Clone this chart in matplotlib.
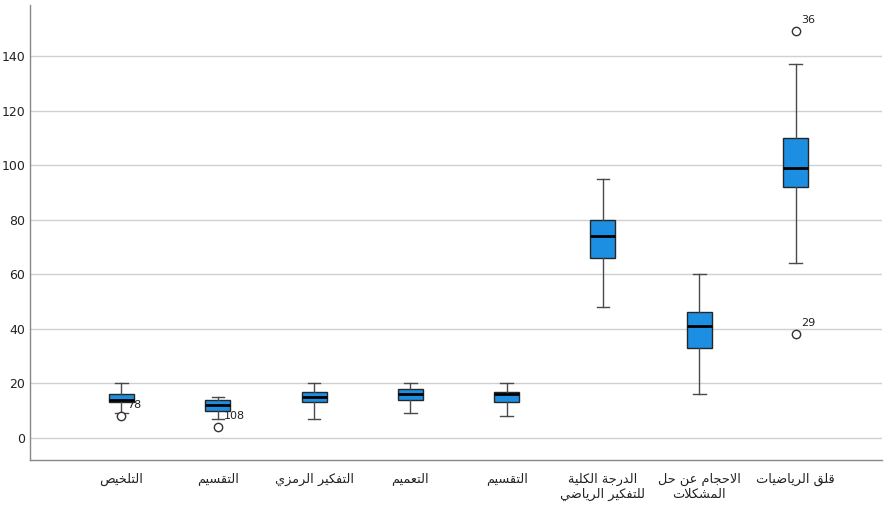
import matplotlib
matplotlib.use("Agg")
import matplotlib.pyplot as plt

# Category labels (Arabic)
labels = ["التلخيص", "التقسيم", "التفكير الرمزي", "التعميم", "التقسيم",
          "الدرجة الكلية\nللتفكير الرياضي", "الاحجام عن حل\nالمشكلات", "قلق الرياضيات"]

# Box statistics
whislo = [9, 7, 7, 9, 8, 48, 16, 64]
q1 = [13, 10, 13, 14, 13, 66, 33, 92]
med = [14, 12, 15, 16, 16, 74, 41, 99]
q3 = [16, 14, 17, 18, 17, 80, 46, 110]
whishi = [20, 15, 20, 20, 20, 95, 60, 137]
fliers = [[8], [4], [], [], [], [], [], [149, 38]]
flier_ids = [["78"], ["108"], [], [], [], [], [], ["36", "29"]]

yticks = [0, 20, 40, 60, 80, 100, 120, 140]

# --- minimal Arabic shaping (matplotlib has no shaping / bidi) ---
forms = {
    "ء": (0xFE80, None, None, None), "آ": (0xFE81, 0xFE82, None, None),
    "أ": (0xFE83, 0xFE84, None, None), "ؤ": (0xFE85, 0xFE86, None, None),
    "إ": (0xFE87, 0xFE88, None, None), "ئ": (0xFE89, 0xFE8A, 0xFE8B, 0xFE8C),
    "ا": (0xFE8D, 0xFE8E, None, None), "ب": (0xFE8F, 0xFE90, 0xFE91, 0xFE92),
    "ة": (0xFE93, 0xFE94, None, None), "ت": (0xFE95, 0xFE96, 0xFE97, 0xFE98),
    "ث": (0xFE99, 0xFE9A, 0xFE9B, 0xFE9C), "ج": (0xFE9D, 0xFE9E, 0xFE9F, 0xFEA0),
    "ح": (0xFEA1, 0xFEA2, 0xFEA3, 0xFEA4), "خ": (0xFEA5, 0xFEA6, 0xFEA7, 0xFEA8),
    "د": (0xFEA9, 0xFEAA, None, None), "ذ": (0xFEAB, 0xFEAC, None, None),
    "ر": (0xFEAD, 0xFEAE, None, None), "ز": (0xFEAF, 0xFEB0, None, None),
    "س": (0xFEB1, 0xFEB2, 0xFEB3, 0xFEB4), "ش": (0xFEB5, 0xFEB6, 0xFEB7, 0xFEB8),
    "ص": (0xFEB9, 0xFEBA, 0xFEBB, 0xFEBC), "ض": (0xFEBD, 0xFEBE, 0xFEBF, 0xFEC0),
    "ط": (0xFEC1, 0xFEC2, 0xFEC3, 0xFEC4), "ظ": (0xFEC5, 0xFEC6, 0xFEC7, 0xFEC8),
    "ع": (0xFEC9, 0xFECA, 0xFECB, 0xFECC), "غ": (0xFECD, 0xFECE, 0xFECF, 0xFED0),
    "ف": (0xFED1, 0xFED2, 0xFED3, 0xFED4), "ق": (0xFED5, 0xFED6, 0xFED7, 0xFED8),
    "ك": (0xFED9, 0xFEDA, 0xFEDB, 0xFEDC), "ل": (0xFEDD, 0xFEDE, 0xFEDF, 0xFEE0),
    "م": (0xFEE1, 0xFEE2, 0xFEE3, 0xFEE4), "ن": (0xFEE5, 0xFEE6, 0xFEE7, 0xFEE8),
    "ه": (0xFEE9, 0xFEEA, 0xFEEB, 0xFEEC), "و": (0xFEED, 0xFEEE, None, None),
    "ى": (0xFEEF, 0xFEF0, None, None), "ي": (0xFEF1, 0xFEF2, 0xFEF3, 0xFEF4),
}
lam_alef = {"آ": (0xFEF5, 0xFEF6), "أ": (0xFEF7, 0xFEF8),
            "إ": (0xFEF9, 0xFEFA), "ا": (0xFEFB, 0xFEFC)}


def shape_line(s):
    # merge lam + alef into ligature tokens
    toks = []
    i = 0
    while i < len(s):
        if s[i] == "ل" and i + 1 < len(s) and s[i + 1] in lam_alef:
            toks.append(("LA", s[i + 1]))
            i += 2
        else:
            toks.append(("C", s[i]))
            i += 1

    def joins_next(t):  # can connect to the following letter
        if t[0] == "LA":
            return False
        f = forms.get(t[1])
        return f is not None and f[2] is not None

    def joins_prev(t):  # can connect to the previous letter
        if t[0] == "LA":
            return True
        f = forms.get(t[1])
        return f is not None and f[1] is not None

    out = []
    for k, t in enumerate(toks):
        prev_j = k > 0 and joins_next(toks[k - 1]) and joins_prev(t)
        next_j = k + 1 < len(toks) and joins_next(t) and joins_prev(toks[k + 1])
        if t[0] == "LA":
            iso, fin = lam_alef[t[1]]
            out.append(chr(fin if prev_j else iso))
            continue
        f = forms.get(t[1])
        if f is None:
            out.append(t[1])
            continue
        if prev_j and next_j:
            cp = f[3]
        elif prev_j:
            cp = f[1]
        elif next_j:
            cp = f[2]
        else:
            cp = f[0]
        out.append(chr(cp))
    return "".join(out)[::-1]


def shape(s):
    return "\n".join(shape_line(line) for line in s.split("\n"))


stats = []
for i in range(len(labels)):
    stats.append({"whislo": whislo[i], "q1": q1[i], "med": med[i], "q3": q3[i],
                  "whishi": whishi[i], "fliers": fliers[i]})

fig = plt.figure(figsize=(8.84, 5.05), dpi=100)
ax = fig.add_axes([30 / 884, 1 - 460 / 505, 1 - 30 / 884 - 0.002, (460 - 5) / 505])

positions = list(range(1, len(labels) + 1))
ax.bxp(stats, positions=positions, widths=0.26, patch_artist=True,
       boxprops=dict(facecolor="#1c8fe3", edgecolor="#262626", linewidth=1.0),
       medianprops=dict(color="black", linewidth=2.0),
       whiskerprops=dict(color="#4a4a4a", linewidth=1.0),
       capprops=dict(color="#4a4a4a", linewidth=1.0),
       capwidths=0.13,
       flierprops=dict(marker="o", markerfacecolor="white", markeredgecolor="#333333",
                       markersize=6, markeredgewidth=1.0),
       zorder=3)

# outlier case numbers
for p, vals, ids in zip(positions, fliers, flier_ids):
    for v, lab in zip(vals, ids):
        ax.annotate(lab, (p, v), xytext=(4, 6), textcoords="offset points",
                    fontsize=8, color="#222222")

ax.set_xlim(0.05, 8.9)
ax.set_ylim(-8.1, 158.7)
ax.set_yticks(yticks)
ax.set_xticks(positions)
ax.set_xticklabels([shape(l) for l in labels], fontsize=9.3, family="DejaVu Sans")
ax.tick_params(axis="both", length=0, labelsize=9, colors="#222222")
ax.tick_params(axis="x", pad=9, labelsize=9.3)
ax.grid(axis="y", color="#d0d0d0", linewidth=1.0, zorder=0)
ax.set_axisbelow(True)
for side in ["top", "right"]:
    ax.spines[side].set_visible(False)
for side in ["left", "bottom"]:
    ax.spines[side].set_color("#888888")
    ax.spines[side].set_linewidth(1.0)

fig.savefig("out.png", dpi=100)
